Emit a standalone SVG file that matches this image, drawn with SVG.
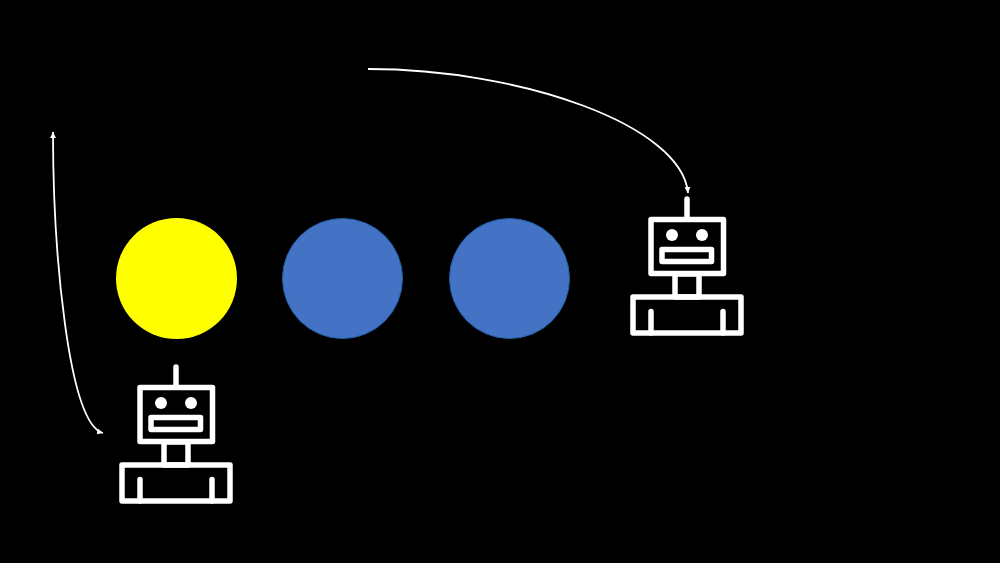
<svg xmlns="http://www.w3.org/2000/svg" xmlns:xlink="http://www.w3.org/1999/xlink" width="1000" height="563" viewBox="0 0 1000 563">
<style>
.c{stroke:#1f60a8;stroke-width:1;fill:#4472c4}
.r{fill:none;stroke:#fff;stroke-width:5.5;stroke-linecap:round;stroke-linejoin:round}
.e{fill:#fff}
.a{fill:none;stroke:#fff;stroke-width:1.8}
</style>
<defs>
<marker id="ah" markerUnits="userSpaceOnUse" markerWidth="6" markerHeight="6" refX="6" refY="3" orient="auto-start-reverse" viewBox="0 0 6 6"><path d="M0 0L6 3L0 6Z" fill="#fff"/></marker>
<g id="robot">
<path class="r" d="M176 199V219"/>
<rect class="r" x="140" y="219.500" width="72.500" height="54"/>
<circle class="e" cx="161" cy="235" r="6"/>
<circle class="e" cx="191" cy="235" r="6"/>
<rect class="r" x="151" y="249.500" width="49.500" height="12"/>
<rect class="r" x="164" y="274" width="24" height="23"/>
<rect class="r" x="122" y="297" width="108" height="36"/>
<path class="r" d="M140 311.500V333M212 311.500V333"/>
</g>
</defs>
<rect width="1000" height="563" fill="#000"/>
<g id="sun"><circle cx="176.500" cy="278.500" r="60.500" fill="#ff0"/></g>
<g id="planet1"><circle class="c" cx="342.500" cy="278.500" r="60"/></g>
<g id="planet2"><circle class="c" cx="509.500" cy="278.500" r="60"/></g>
<g id="robot1"><use href="#robot" xlink:href="#robot" x="511" y="0"/></g>
<g id="robot2"><use href="#robot" xlink:href="#robot" x="0" y="168"/></g>
<g id="connectors">
<path class="a" marker-end="url(#ah)" d="M368 69C520 69 682 125 688 193"/>
<path class="a" marker-start="url(#ah)" marker-end="url(#ah)" d="M53 132C53 250 68 424 103 433"/>
</g>
</svg>
